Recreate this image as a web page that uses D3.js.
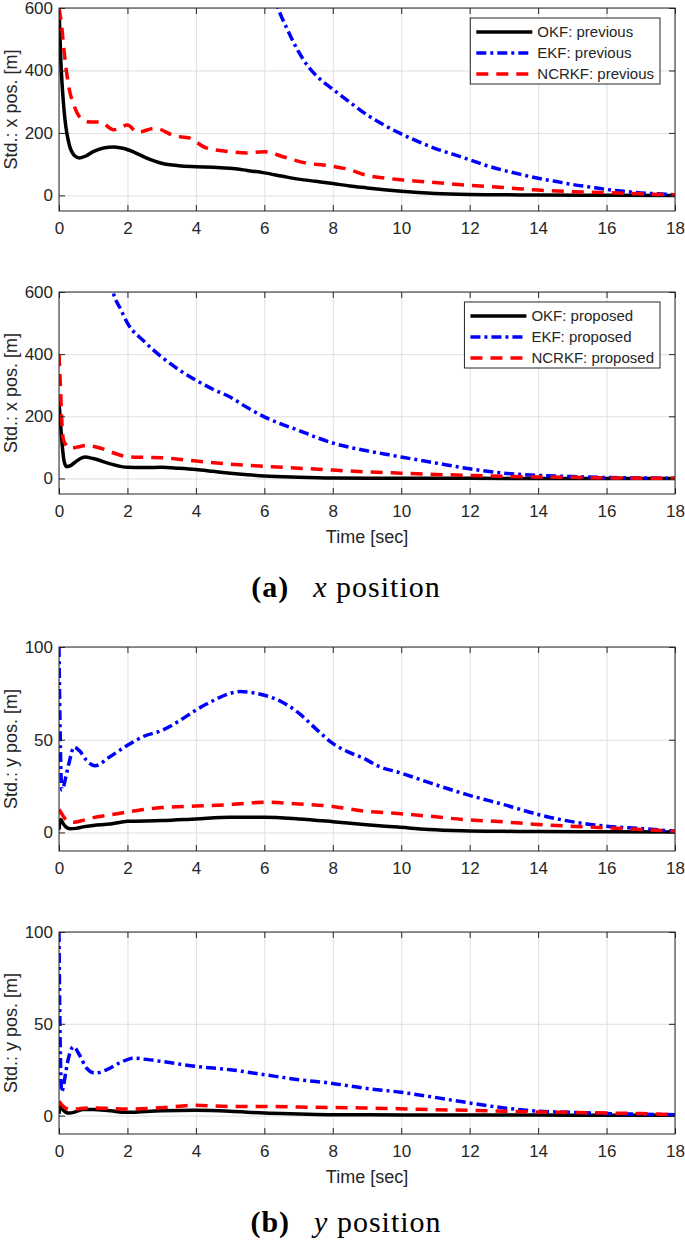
<!doctype html>
<html lang="en">
  <head>
    <meta charset="UTF-8" />
    <title>Std. of position error</title>
    <style>
      body { margin: 0; background: #fff; }
      svg { display: block; }
      .tick text { font-family: "Liberation Sans", Arial, sans-serif; font-size: 17px; fill: #262626; }
      .lbl { font-family: "Liberation Sans", Arial, sans-serif; font-size: 18px; fill: #262626; }
      .leg { font-family: "Liberation Sans", Arial, sans-serif; font-size: 15px; fill: #262626; }
      .cap { font-family: "Liberation Serif", "DejaVu Serif", serif; font-size: 30px; fill: #000; letter-spacing: 1px; }
    </style>
  </head>
  <body>
    <svg id="chart"></svg>
    <script src="https://d3js.org/d3.v7.min.js"></script>
    <script>
      /* global d3 */

      // ---- data ----
      const xTicks = [0, 2, 4, 6, 8, 10, 12, 14, 16, 18];
      const yTicksX = [0, 200, 400, 600];
      const yTicksY = [0, 50, 100];

      // x position, previous
      const tOkfXPrev = [0, 0.05, 0.1, 0.15, 0.2, 0.3, 0.45, 0.6, 0.8, 1.0, 1.3, 1.6, 1.9, 2.2, 2.6, 3.0, 3.5, 4, 4.5, 5, 5.5, 6, 6.5, 7, 7.5, 8, 8.5, 9, 9.5, 10, 10.5, 11, 12, 13, 14, 16, 18];
      const okfXPrev = [600, 440, 340, 270, 220, 162, 128, 120, 127, 140, 152, 155, 150, 138, 118, 103, 95, 92, 90, 87, 80, 72, 62, 52, 45, 38, 30, 24, 18, 13, 9, 6, 3, 2, 1, 0.5, 0];
      const tEkfXPrev = [6.25, 6.4, 6.7, 7.0, 7.3, 7.6, 8.0, 8.5, 9, 9.5, 10, 10.5, 11, 11.5, 12, 12.5, 13, 13.5, 14, 14.5, 15, 15.5, 16, 16.5, 17, 17.5, 18];
      const ekfXPrev = [650, 600, 525, 460, 410, 375, 340, 298, 258, 225, 197, 172, 150, 132, 114, 95, 80, 67, 55, 45, 35, 27, 19, 13, 8, 5, 2];
      const tNcrXPrev = [0, 0.08, 0.15, 0.3, 0.45, 0.6, 0.9, 1.2, 1.6, 2.0, 2.3, 2.8, 3.4, 3.8, 4.3, 5.0, 5.5, 6.0, 6.6, 7.2, 7.9, 8.5, 8.9, 9.9, 10.9, 12, 13, 14, 15, 16, 17, 18];
      const ncrXPrev = [600, 540, 460, 340, 285, 252, 235, 235, 210, 225, 202, 215, 190, 184, 152, 140, 136, 140, 122, 104, 95, 82, 67, 51, 42, 32, 25, 17, 12, 9, 5, 2];

      // x position, proposed
      const tOkfXProp = [0, 0.05, 0.1, 0.15, 0.22, 0.35, 0.5, 0.76, 1.0, 1.5, 2, 2.5, 3, 3.5, 4, 4.5, 5, 5.5, 6, 7, 8, 9, 10, 12, 14, 16, 18];
      const okfXProp = [246, 170, 100, 55, 38, 42, 55, 69, 64, 47, 36, 35, 36, 33, 29, 23, 17, 12, 8, 4, 1.5, 0.8, 0.5, 0.3, 0.2, 0.1, 0];
      const tEkfXProp = [1.5, 1.58, 1.8, 2, 2.5, 3, 3.5, 4, 4.5, 5, 5.5, 6, 6.5, 7, 7.5, 8, 8.5, 9, 9.5, 10, 11, 12, 13, 14, 15, 16, 17, 18];
      const ekfXProp = [640, 600, 545, 500, 440, 391, 350, 316, 287, 262, 228, 198, 175, 155, 133, 114, 100, 89, 79, 69, 50, 31, 17, 10, 6, 3, 1.5, 0.5];
      const tNcrXProp = [0, 0.04, 0.08, 0.12, 0.2, 0.3, 0.5, 0.8, 1.2, 1.5, 2, 2.5, 3, 3.5, 4, 5, 6, 7, 8, 9, 10, 11, 12, 13, 14, 15, 16, 17, 18];
      const ncrXProp = [400, 300, 190, 130, 108, 98, 100, 106, 98, 86, 70, 68, 67, 62, 56, 46, 39, 33, 27, 21, 17, 13, 10, 7, 5, 3.5, 2, 1, 0.5];

      // y position, previous
      const tOkfYPrev = [0, 0.03, 0.06, 0.1, 0.2, 0.32, 0.5, 0.7, 1, 1.5, 2, 3, 4, 5, 6, 7, 8, 8.9, 9.9, 10.8, 11.8, 13, 14, 16, 18];
      const okfYPrev = [1.5, 6, 7, 5.5, 3, 2, 2.2, 3, 3.8, 4.5, 6, 6.4, 7.3, 8.2, 8.2, 7.3, 5.8, 4.3, 2.9, 1.6, 0.9, 0.6, 0.5, 0.4, 0.3];
      const tEkfYPrev = [0, 0.02, 0.05, 0.08, 0.12, 0.2, 0.3, 0.44, 0.6, 0.8, 1.05, 1.5, 2, 2.5, 3, 3.5, 4, 4.5, 5, 5.3, 5.6, 6, 6.5, 7, 7.5, 8, 8.5, 8.9, 9.3, 10, 10.8, 11.9, 13, 14, 14.9, 16, 17, 18];
      const ekfYPrev = [100, 70, 38, 23, 24, 30, 38, 46, 44, 39, 36, 41, 47, 52, 55, 60, 66, 71, 75, 76, 75.5, 74, 70.5, 64.5, 56, 48, 43, 40, 36, 32, 27, 20.5, 15, 9.7, 6.1, 3.4, 2.1, 0.7];
      const tNcrYPrev = [0, 0.1, 0.2, 0.3, 0.42, 0.7, 1, 1.5, 2, 2.5, 3, 4, 5, 6, 7, 8, 8.9, 9.9, 10.8, 11.8, 13, 14, 14.9, 16, 17, 18];
      const ncrYPrev = [12.4, 9.5, 7, 6, 5.5, 6.5, 8, 9.5, 11, 12.4, 13.4, 14.2, 15, 16.3, 15.4, 14, 11.5, 10.2, 8.8, 7, 5.7, 4.3, 3.4, 2.5, 1.6, 0.7];

      // y position, proposed
      const tOkfYProp = [0, 0.03, 0.06, 0.1, 0.2, 0.3, 0.5, 0.7, 1, 1.5, 2, 3, 4, 5, 6, 7, 8, 10, 12, 14, 16, 18];
      const okfYProp = [1, 4.5, 5, 3.5, 1.8, 1.4, 2.2, 3.3, 3.4, 2.6, 1.8, 2.7, 2.9, 2.4, 1.4, 0.9, 0.5, 0.4, 0.3, 0.3, 0.2, 0.2];
      const tEkfYProp = [0, 0.02, 0.05, 0.08, 0.12, 0.2, 0.3, 0.42, 0.6, 0.8, 1.05, 1.4, 1.8, 2.17, 2.6, 3, 4, 5, 6, 7, 7.9, 8.9, 10, 10.8, 12, 13, 14, 15, 16, 17, 18];
      const ekfYProp = [100, 60, 25, 13, 15, 24, 33, 37.5, 33, 26, 23.2, 25, 29, 31.3, 30.5, 29.5, 26.8, 25, 22.3, 19.6, 17.8, 15, 12.7, 10.5, 6.9, 4.2, 2.4, 1.8, 1.1, 0.8, 0.5];
      const tNcrYProp = [0, 0.1, 0.2, 0.32, 0.6, 1, 2, 3, 4, 5, 6, 7, 8, 8.9, 9.9, 10.8, 12, 13, 14, 15, 16, 17, 18];
      const ncrYProp = [7.8, 5.5, 4, 3.3, 3.8, 4.2, 3.6, 4.3, 5.6, 5, 5, 4.7, 4.4, 4.2, 3.8, 3.3, 2.9, 2.4, 2, 1.8, 1.4, 1.1, 0.5];

      const legendPrev = ["OKF: previous", "EKF: previous", "NCRKF: previous"];
      const legendProp = ["OKF: proposed", "EKF: proposed", "NCRKF: proposed"];

      // ---- styles ----
      const styles = [
        { color: "#000000", dash: null },
        { color: "#0000ff", dash: "10,4,3,4" },
        { color: "#ff0000", dash: "12,8" },
      ];
      const axisColor = "#262626";
      const gridColor = "#dfdfdf";

      const width = 685, height = 1242;
      const left = 59, right = 675;

      const svg = d3.select("#chart").attr("width", width).attr("height", height);
      svg.append("rect").attr("width", width).attr("height", height).attr("fill", "#fff");

      const x = d3.scaleLinear().domain([0, 18]).range([left, right]);

      const zip = (t, v) => t.map((d, i) => [d, v[i]]);

      const panels = [
        { top: 8, bottom: 211, domain: [-50, 600], yTicks: yTicksX, ylabel: "Std.: x pos. [m]",
          legend: legendPrev, xlabel: false,
          series: [zip(tOkfXPrev, okfXPrev), zip(tEkfXPrev, ekfXPrev), zip(tNcrXPrev, ncrXPrev)] },
        { top: 292, bottom: 494, domain: [-50, 600], yTicks: yTicksX, ylabel: "Std.: x pos. [m]",
          legend: legendProp, xlabel: true,
          series: [zip(tOkfXProp, okfXProp), zip(tEkfXProp, ekfXProp), zip(tNcrXProp, ncrXProp)] },
        { top: 647, bottom: 851, domain: [-10, 100], yTicks: yTicksY, ylabel: "Std.: y pos. [m]",
          legend: null, xlabel: false,
          series: [zip(tOkfYPrev, okfYPrev), zip(tEkfYPrev, ekfYPrev), zip(tNcrYPrev, ncrYPrev)] },
        { top: 932, bottom: 1134, domain: [-10, 100], yTicks: yTicksY, ylabel: "Std.: y pos. [m]",
          legend: null, xlabel: true,
          series: [zip(tOkfYProp, okfYProp), zip(tEkfYProp, ekfYProp), zip(tNcrYProp, ncrYProp)] },
      ];

      panels.forEach((p, i) => {
        const y = d3.scaleLinear().domain(p.domain).range([p.bottom, p.top]);
        const g = svg.append("g");
        const h = p.bottom - p.top;

        // grid
        g.append("g")
          .attr("transform", `translate(0,${p.bottom})`)
          .call(d3.axisBottom(x).tickValues(xTicks).tickSize(-h).tickFormat(""))
          .call((s) => s.select(".domain").remove())
          .selectAll("line").attr("stroke", gridColor);
        g.append("g")
          .attr("transform", `translate(${left},0)`)
          .call(d3.axisLeft(y).tickValues(p.yTicks).tickSize(-(right - left)).tickFormat(""))
          .call((s) => s.select(".domain").remove())
          .selectAll("line").attr("stroke", gridColor);

        // lines
        const clipId = "clip" + i;
        svg.append("clipPath").attr("id", clipId)
          .append("rect").attr("x", left).attr("y", p.top).attr("width", right - left).attr("height", h);
        const line = d3.line().x((d) => x(d[0])).y((d) => y(d[1])).curve(d3.curveMonotoneX);
        const lg = g.append("g").attr("clip-path", `url(#${clipId})`);
        p.series.forEach((s, k) => {
          lg.append("path")
            .attr("d", line(s))
            .attr("fill", "none")
            .attr("stroke", styles[k].color)
            .attr("stroke-width", 3.5)
            .attr("stroke-dasharray", styles[k].dash)
            .attr("stroke-linejoin", "round");
        });

        // axes with inward ticks
        const ax = (sel) => sel.select(".domain").remove();
        g.append("g").attr("transform", `translate(0,${p.bottom})`)
          .call(d3.axisBottom(x).tickValues(xTicks).tickSize(-6).tickPadding(11)).call(ax);
        g.append("g").attr("transform", `translate(0,${p.top})`)
          .call(d3.axisTop(x).tickValues(xTicks).tickSize(-6).tickFormat("")).call(ax);
        g.append("g").attr("transform", `translate(${left},0)`)
          .call(d3.axisLeft(y).tickValues(p.yTicks).tickSize(-6).tickPadding(6)).call(ax);
        g.append("g").attr("transform", `translate(${right},0)`)
          .call(d3.axisRight(y).tickValues(p.yTicks).tickSize(-6).tickFormat("")).call(ax);
        g.selectAll(".tick line").filter(function () { return this.getAttribute("stroke") !== gridColor; })
          .attr("stroke", axisColor);
        g.selectAll(".tick text").attr("font-family", null).attr("font-size", null);

        g.append("rect")
          .attr("x", left).attr("y", p.top).attr("width", right - left).attr("height", h)
          .attr("fill", "none").attr("stroke", axisColor).attr("stroke-width", 1);

        // labels
        g.append("text").attr("class", "lbl")
          .attr("transform", `translate(17,${(p.top + p.bottom) / 2}) rotate(-90)`)
          .attr("text-anchor", "middle")
          .text(p.ylabel);
        if (p.xlabel) {
          g.append("text").attr("class", "lbl")
            .attr("x", (left + right) / 2).attr("y", p.bottom + 49)
            .attr("text-anchor", "middle")
            .text("Time [sec]");
        }

        // legend
        if (p.legend) {
          const lgd = g.append("g");
          const box = lgd.append("rect").attr("fill", "#fff").attr("stroke", axisColor).attr("stroke-width", 1);
          let maxW = 0;
          p.legend.forEach((name, k) => {
            const yy = p.top + 24 + k * 21;
            const t = lgd.append("text").attr("class", "leg").attr("y", yy + 5).text(name);
            maxW = Math.max(maxW, t.node().getComputedTextLength());
            lgd.append("line").attr("y1", yy).attr("y2", yy)
              .attr("stroke", styles[k].color).attr("stroke-width", 3.5)
              .attr("stroke-dasharray", styles[k].dash).attr("class", "sample");
          });
          const bw = 6 + 56 + 5 + maxW + 6;
          const bx = right - 15 - bw;
          box.attr("x", bx).attr("y", p.top + 10).attr("width", bw).attr("height", 66);
          lgd.selectAll("line.sample").attr("x1", bx + 6).attr("x2", bx + 62);
          lgd.selectAll("text").attr("x", bx + 67);
        }
      });

      // sub-captions
      const caption = (yy, letter, v) => {
        const t = svg.append("text").attr("class", "cap").attr("x", 346).attr("y", yy).attr("text-anchor", "middle");
        t.append("tspan").attr("font-weight", "bold").text(`(${letter})`);
        t.append("tspan").attr("dx", 24).attr("font-style", "italic").text(v);
        t.append("tspan").text(" position");
      };
      caption(597, "a", "x");
      caption(1232, "b", "y");
    </script>
  </body>
</html>
